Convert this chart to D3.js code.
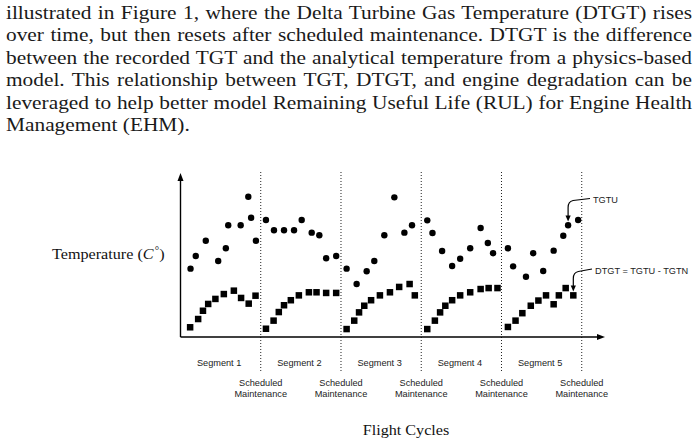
<!DOCTYPE html>
<html><head><meta charset="utf-8">
<script src="https://cdn.jsdelivr.net/npm/d3@7/dist/d3.min.js"></script>
<style>html,body{margin:0;padding:0;background:#fff}svg{display:block}</style>
</head><body>
<script>
// ---- text content ----
const paragraphLines = [
  "illustrated in Figure 1, where the Delta Turbine Gas Temperature (DTGT) rises",
  "over time, but then resets after scheduled maintenance. DTGT is the difference",
  "between the recorded TGT and the analytical temperature from a physics-based",
  "model. This relationship between TGT, DTGT, and engine degradation can be",
  "leveraged to help better model Remaining Useful Life (RUL) for Engine Health",
  "Management (EHM)."
];
const segmentLabels = ["Segment 1", "Segment 2", "Segment 3", "Segment 4", "Segment 5"];
const maintenanceCycles = [20, 40, 60, 80, 100];
const segmentBounds = [0, 20, 40, 60, 80, 100];

// ---- data (flight cycles, temperature units) ----
const tgtuX = [2.5, 3.8, 6.3, 9.4, 11.3, 11.9, 15.0, 16.9, 17.6, 18.8,
               21.3, 23.3, 25.8, 28.3, 30.2, 32.7, 34.6, 36.3, 38.8,
               41.4, 43.9, 46.4, 48.3, 50.8, 53.3, 55.8, 57.7,
               61.5, 62.8, 65.2, 67.7, 69.7, 72.2, 74.8, 76.6, 77.9,
               81.6, 82.9, 86.1, 87.9, 90.4, 93.0, 95.4, 96.6, 99.1];
const tgtuY = [42.2, 50.0, 59.4, 46.9, 54.8, 69.0, 69.0, 86.6, 73.6, 59.4,
               72.2, 65.9, 65.9, 65.9, 72.2, 64.4, 62.8, 48.6, 50.0,
               42.2, 32.7, 40.6, 46.9, 62.8, 86.2, 64.4, 69.0,
               72.0, 64.2, 53.1, 43.8, 48.3, 54.8, 67.3, 58.0, 51.7,
               54.8, 43.6, 37.2, 51.7, 40.7, 53.3, 62.5, 69.0, 72.2];
const dtgtX = [2.4, 4.4, 5.6, 6.9, 8.7, 10.8, 13.3, 15.1, 17.0, 18.7,
               21.3, 23.2, 24.5, 25.8, 27.5, 29.5, 32.0, 33.9, 36.3, 38.8,
               41.4, 43.3, 44.5, 45.8, 47.5, 49.7, 52.2, 54.5, 57.1, 58.4,
               61.5, 63.4, 64.7, 66.0, 67.7, 69.7, 72.2, 74.8, 76.8, 79.0,
               81.6, 83.5, 85.2, 87.3, 89.2, 91.1, 93.0, 94.3, 96.0, 97.9];
const dtgtY = [6.0, 11.1, 16.2, 20.4, 23.5, 26.5, 28.6, 24.1, 20.6, 25.5,
               5.1, 10.1, 15.4, 19.6, 22.7, 25.7, 27.6, 27.6, 27.2, 27.2,
               4.9, 10.1, 15.2, 19.3, 22.7, 25.7, 27.6, 30.9, 32.7, 25.7,
               4.9, 10.1, 15.2, 19.3, 22.7, 25.7, 27.6, 29.6, 30.2, 30.2,
               6.2, 10.1, 14.7, 19.3, 22.5, 25.7, 20.2, 25.7, 30.2, 25.7];

const W = 699, H = 445;
const svg = d3.select("body").append("svg").attr("width", W).attr("height", H);

const serif = "'Liberation Serif', 'Times New Roman', serif";
const sans = "'Liberation Sans', Arial, Helvetica, sans-serif";

// ---- paragraph ----
const paraLeft = 6, paraRight = 692, paraTop = 19, lineGap = 22.4, paraSize = 18.5;
const lastLineWidth = 184;
const tmp = svg.append("text").attr("font-family", serif).attr("font-size", paraSize)
  .text(paragraphLines[paragraphLines.length - 1]);
const sx = lastLineWidth / tmp.node().getComputedTextLength();
tmp.remove();
paragraphLines.forEach((line, i) => {
  const t = svg.append("text")
    .attr("font-family", serif).attr("font-size", paraSize).attr("fill", "#1a1a1a")
    .attr("transform", `translate(${paraLeft},${paraTop + i * lineGap}) scale(${sx},1)`)
    .attr("x", 0).attr("y", 0)
    .text(line);
  if (i < paragraphLines.length - 1) {
    const w = t.node().getComputedTextLength();
    const spaces = (line.match(/ /g) || []).length;
    const ws = ((paraRight - paraLeft) / sx - w) / spaces;
    t.attr("word-spacing", ws);
  }
});

// ---- scales ----
const x = d3.scaleLinear().domain([0, 105.3]).range([180.5, 603]);
const y = d3.scaleLinear().domain([0, 100]).range([337, 175]);

// ---- maintenance dotted lines ----
svg.append("g").selectAll("line").data(maintenanceCycles).join("line")
  .attr("x1", d => x(d)).attr("x2", d => x(d))
  .attr("y1", 172).attr("y2", 373)
  .attr("stroke", "#222").attr("stroke-width", 1).attr("stroke-dasharray", "1,2");

// ---- axes ----
const ax = svg.append("g").attr("stroke", "#000").attr("stroke-width", 1.4);
ax.append("line").attr("x1", x(0)).attr("x2", x(105.3) - 4).attr("y1", y(0)).attr("y2", y(0));
ax.append("line").attr("x1", x(0)).attr("x2", x(0)).attr("y1", y(0)).attr("y2", y(100) + 3);
svg.append("path")
  .attr("d", `M${x(105.3) + 2},${y(0)} L${x(105.3) - 6},${y(0) - 3} L${x(105.3) - 6},${y(0) + 3} Z`)
  .attr("fill", "#000");
svg.append("path")
  .attr("d", `M${x(0)},${y(100) - 2} L${x(0) - 3},${y(100) + 6} L${x(0) + 3},${y(100) + 6} Z`)
  .attr("fill", "#000");

// ---- points ----
const r = 3.2, sq = 6.5;
svg.append("g").selectAll("circle").data(tgtuX).join("circle")
  .attr("cx", d => x(d)).attr("cy", (d, i) => y(tgtuY[i])).attr("r", r).attr("fill", "#000");
svg.append("g").selectAll("rect").data(dtgtX).join("rect")
  .attr("x", d => x(d) - sq / 2).attr("y", (d, i) => y(dtgtY[i]) - sq / 2)
  .attr("width", sq).attr("height", sq).attr("fill", "#000");

// ---- labels under axis ----
svg.append("g").selectAll("text").data(segmentLabels).join("text")
  .attr("x", (d, i) => (x(segmentBounds[i]) + x(segmentBounds[i + 1])) / 2 - 1.5)
  .attr("y", 366).attr("text-anchor", "middle")
  .attr("font-family", sans).attr("font-size", 9.2).attr("fill", "#222").text(d => d);
const sm = svg.append("g").selectAll("g").data(maintenanceCycles).join("g");
sm.append("text").attr("x", d => x(d)).attr("y", 385.5).attr("text-anchor", "middle")
  .attr("font-family", sans).attr("font-size", 9.2).attr("fill", "#222").text("Scheduled");
sm.append("text").attr("x", d => x(d)).attr("y", 397).attr("text-anchor", "middle")
  .attr("font-family", sans).attr("font-size", 9.2).attr("fill", "#222").text("Maintenance");

// ---- axis titles ----
svg.append("text").attr("font-family", serif).attr("font-size", 14).attr("fill", "#111")
  .attr("transform", `translate(406,435) scale(${sx},1)`).attr("text-anchor", "middle")
  .text("Flight Cycles");
const tl = svg.append("text").attr("font-family", serif).attr("font-size", 14).attr("fill", "#111")
  .attr("transform", `translate(52,259) scale(${sx},1)`);
tl.append("tspan").text("Temperature (");
tl.append("tspan").attr("font-style", "italic").text("C");
tl.append("tspan").attr("font-size", 9.5).attr("dy", -5).attr("dx", 1).text("°");
tl.append("tspan").attr("dy", 5).text(")");

// ---- annotations ----
const iT = tgtuX.length - 2;
const tipT = [x(tgtuX[iT]), y(tgtuY[iT]) - r - 0.5];
const iD = dtgtX.length - 1;
const tipD = [x(dtgtX[iD]), y(dtgtY[iD]) - sq / 2 - 0.5];
const ann = svg.append("g");
function arrow(tip, start, corner) {
  ann.append("path")
    .attr("d", `M${start[0]},${start[1]} L${corner[0] + 5},${corner[1]} Q${tip[0]},${corner[1] + 1} ${tip[0]},${corner[1] + 7} L${tip[0]},${tip[1] - 4}`)
    .attr("fill", "none").attr("stroke", "#000").attr("stroke-width", 1.2);
  ann.append("path")
    .attr("d", `M${tip[0]},${tip[1]} L${tip[0] - 2.6},${tip[1] - 6} L${tip[0] + 2.6},${tip[1] - 6} Z`)
    .attr("fill", "#000");
}
arrow(tipT, [590, 198.5], [tipT[0], 200.5]);
arrow(tipD, [592, 269], [tipD[0], 271.5]);
ann.append("text").attr("x", 593).attr("y", 202.5).attr("font-family", sans)
  .attr("font-size", 9.2).attr("fill", "#222").text("TGTU");
ann.append("text").attr("x", 595).attr("y", 274).attr("font-family", sans)
  .attr("font-size", 9.2).attr("fill", "#222").text("DTGT = TGTU - TGTN");
</script>
</body></html>
